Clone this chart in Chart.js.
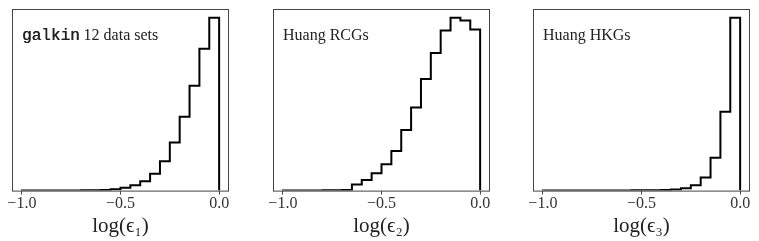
<!DOCTYPE html>
<html>
<head>
<meta charset="utf-8">
<script src="https://cdn.jsdelivr.net/npm/chart.js@4/dist/chart.umd.min.js"></script>
<style>
  body { margin: 0; background: #fff; }
  .panel { position: absolute; top: 0; }
</style>
</head>
<body>
<div class="panel" style="left:0px"><canvas id="c1" width="238" height="241"></canvas></div>
<div class="panel" style="left:261px"><canvas id="c2" width="238" height="241"></canvas></div>
<div class="panel" style="left:521px"><canvas id="c3" width="238" height="241"></canvas></div>
<script>
// left edges of the histogram bins (width 0.05), last entry is the right edge
const binEdges = [-1.0, -0.95, -0.9, -0.85, -0.8, -0.75, -0.7, -0.65, -0.6, -0.55,
                  -0.5, -0.45, -0.4, -0.35, -0.3, -0.25, -0.2, -0.15, -0.1, -0.05, 0.0];

// bin heights, normalised to the tallest bin = 100
const galkinCounts = [0.05, 0.05, 0.05, 0.05, 0.08, 0.1, 0.15, 0.2, 0.4, 0.8,
                      1.6, 3.1, 5.4, 9.7, 16.9, 27.8, 42.7, 60.6, 82, 100];
const rcgCounts    = [0.1, 0.1, 0.1, 0.1, 0.15, 0.2, 0.3, 3.5, 6.2, 10.1,
                      15.3, 22.9, 35, 48, 64.5, 79.6, 92.6, 100, 98.4, 93.2];
const hkgCounts    = [0.05, 0.05, 0.05, 0.05, 0.05, 0.05, 0.08, 0.1, 0.1, 0.15,
                      0.2, 0.25, 0.3, 0.6, 1.4, 3.1, 7.6, 19, 45.6, 100];

const tickValues = [-1.0, -0.5, 0.0];
const tickLabels = ['\u22121.0', '\u22120.5', '0.0'];
const axisTitles = ['log(\u03F5\u2081)', 'log(\u03F5\u2082)', 'log(\u03F5\u2083)'];
const panelNotes = [
  [{ text: 'galkin', mono: true }, { text: ' 12 data sets' }],
  [{ text: 'Huang RCGs' }],
  [{ text: 'Huang HKGs' }]
];

function stepPoints(counts) {
  const pts = [{ x: binEdges[0], y: 0 }];
  counts.forEach((c, i) => pts.push({ x: binEdges[i], y: c }));
  const last = binEdges[binEdges.length - 1];
  pts.push({ x: last, y: counts[counts.length - 1] });
  pts.push({ x: last, y: 0 });
  return pts;
}

const framePlugin = {
  id: 'frame',
  afterDraw(chart, args, opts) {
    const a = chart.chartArea;
    const ctx = chart.ctx;
    ctx.save();
    ctx.strokeStyle = '#444';
    ctx.lineWidth = 1;
    ctx.strokeRect(a.left + 0.5, a.top + 0.5, a.right - a.left - 1, a.bottom - a.top);
    // note text in the upper left corner
    let x = a.left + 10;
    const y = a.top + 31;
    ctx.fillStyle = '#222';
    ctx.textBaseline = 'alphabetic';
    opts.note.forEach(part => {
      ctx.font = part.mono ? '16px "Liberation Mono", monospace' : '16px "Liberation Serif", serif';
      ctx.fillText(part.text, x, y);
      if (part.mono) ctx.fillText(part.text, x + 0.4, y);
      x += ctx.measureText(part.text).width;
    });
    ctx.restore();
  }
};

function makePanel(id, counts, title, note) {
  new Chart(document.getElementById(id), {
    type: 'line',
    data: {
      datasets: [{
        data: stepPoints(counts),
        stepped: 'before',
        borderColor: '#000',
        borderWidth: 2,
        pointRadius: 0,
        fill: false
      }]
    },
    options: {
      responsive: false,
      animation: false,
      layout: { padding: { left: 12, right: 9, top: 9, bottom: 0 } },
      plugins: {
        legend: { display: false },
        tooltip: { enabled: false },
        frame: { note: note }
      },
      scales: {
        x: {
          type: 'linear',
          min: -1.05,
          max: 0.05,
          afterBuildTicks: axis => { axis.ticks = tickValues.map(v => ({ value: v })); },
          ticks: {
            color: '#333',
            font: { family: '"Liberation Serif", serif', size: 16 },
            padding: 0,
            maxRotation: 0,
            callback: (v) => tickLabels[tickValues.indexOf(v)]
          },
          grid: { drawOnChartArea: false, drawTicks: true, tickLength: 4, color: '#444' },
          border: { display: false },
          title: {
            display: true,
            text: title,
            color: '#222',
            font: { family: '"Liberation Serif", serif', size: 21 },
            padding: { top: 0, bottom: 2 }
          }
        },
        y: { display: false, min: 0, max: 105 }
      }
    },
    plugins: [framePlugin]
  });
}

makePanel('c1', galkinCounts, axisTitles[0], panelNotes[0]);
makePanel('c2', rcgCounts, axisTitles[1], panelNotes[1]);
makePanel('c3', hkgCounts, axisTitles[2], panelNotes[2]);
</script>
</body>
</html>
